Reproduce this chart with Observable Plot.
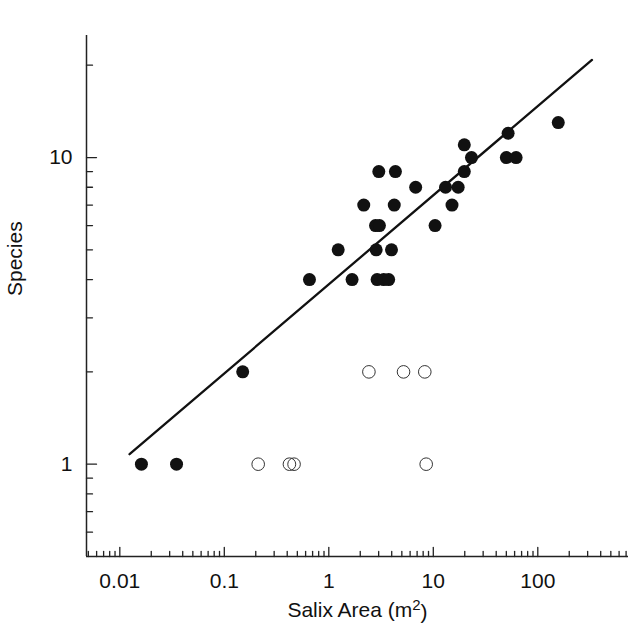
<!DOCTYPE html>
<html>
<head>
<meta charset="utf-8">
<script src="https://cdn.jsdelivr.net/npm/d3@7"></script>
<script src="https://cdn.jsdelivr.net/npm/@observablehq/plot@0.6"></script>
<style>
  body { margin: 0; background: #fff; }
  #chart svg { display: block; }
</style>
</head>
<body>
<div id="chart"></div>
<script>
// Salix patches: area (m²) vs number of species
const filledX = [0.0161, 0.0349, 0.150, 0.653, 1.23, 1.67, 2.16, 2.80, 3.05, 2.84, 3.01, 2.90, 3.35, 3.74, 3.98, 4.23, 4.34, 6.78, 10.4, 13.1, 15.1, 17.3, 19.8, 19.8, 23.2, 50, 62, 52, 157];
const filledY = [1, 1, 2, 4, 5, 4, 7, 6, 6, 5, 9, 4, 4, 4, 5, 7, 9, 8, 6, 8, 7, 8, 9, 11, 10, 10, 10, 12, 13];
const openX = [2.42, 5.19, 8.29, 0.211, 0.42, 0.465, 8.55];
const openY = [2, 2, 2, 1, 1, 1, 1];
// fitted regression line end points
const fitX = [0.0124, 330];
const fitY = [1.078, 20.8];

const xMajorTicks = [0.01, 0.1, 1, 10, 100];
const yMajorTicks = [1, 10];
const xDomain = [0.0048, 738];
const yDomain = [0.5, 25];
const xTitle = "Salix Area (m²)";
const yTitle = "Species";

function minorTicks(lo, hi) {
  const out = [];
  for (let e = Math.floor(Math.log10(lo)); e <= Math.ceil(Math.log10(hi)); e++) {
    for (let k = 2; k <= 9; k++) {
      const v = k * Math.pow(10, e);
      if (v > lo * 1.0001 && v < hi * 0.9999) out.push(v);
    }
  }
  return out;
}
const xMinorTicks = minorTicks(xDomain[0], xDomain[1]);
const yMinorTicks = minorTicks(yDomain[0], yDomain[1]);

const tickUp = {draw(c, l) { c.moveTo(0, 0); c.lineTo(0, -l); }};
const tickRight = {draw(c, l) { c.moveTo(0, 0); c.lineTo(l, 0); }};

const filledIdx = filledX.map((_, i) => i);
const openIdx = openX.map((_, i) => i);
const fitIdx = fitX.map((_, i) => i);
const axisColor = "#222";
const font = "'Liberation Sans', Arial, Helvetica, sans-serif";

const chart = Plot.plot({
  width: 628,
  height: 636,
  marginLeft: 86,
  marginRight: 0,
  marginTop: 35,
  marginBottom: 80,
  style: {fontFamily: font, fontSize: "21px", color: "#111", background: "#fff"},
  x: {type: "log", domain: xDomain, axis: null},
  y: {type: "log", domain: yDomain, axis: null},
  marks: [
    Plot.ruleY([yDomain[0]], {stroke: axisColor, strokeWidth: 1.5}),
    Plot.ruleX([xDomain[0]], {stroke: axisColor, strokeWidth: 1.5}),
    Plot.vector(xMajorTicks, {x: d => d, frameAnchor: "bottom", length: 9, shape: tickUp, anchor: "start", stroke: axisColor, strokeWidth: 1.3}),
    Plot.vector(xMinorTicks, {x: d => d, frameAnchor: "bottom", length: 5, shape: tickUp, anchor: "start", stroke: axisColor, strokeWidth: 1.3}),
    Plot.vector(yMajorTicks, {y: d => d, frameAnchor: "left", length: 10, shape: tickRight, anchor: "start", stroke: axisColor, strokeWidth: 1.3}),
    Plot.vector(yMinorTicks, {y: d => d, frameAnchor: "left", length: 6, shape: tickRight, anchor: "start", stroke: axisColor, strokeWidth: 1.3}),
    Plot.axisX({ticks: xMajorTicks, tickSize: 0, tickPadding: 17, tickFormat: d => String(d), label: null, fontSize: 21}),
    Plot.axisY({ticks: yMajorTicks, tickSize: 0, tickPadding: 14, tickFormat: d => String(d), label: null, fontSize: 21}),
    Plot.line(fitIdx, {x: i => fitX[i], y: i => fitY[i], stroke: "#111", strokeWidth: 2.3}),
    Plot.dot(filledIdx, {x: i => filledX[i], y: i => filledY[i], r: 6.5, fill: "#111", stroke: "none"}),
    Plot.dot(openIdx, {x: i => openX[i], y: i => openY[i], r: 6.3, fill: "none", stroke: "#333", strokeWidth: 1}),
    Plot.text([xTitle], {frameAnchor: "bottom", dy: 60, text: d => d, fontSize: 21, fill: "#111", className: "xtitle"}),
    Plot.text([yTitle], {frameAnchor: "left", dx: -71, rotate: -90, text: d => d, fontSize: 21, fill: "#111"})
  ]
});
document.getElementById("chart").appendChild(chart);

// render the squared unit as a real superscript
d3.select(chart).selectAll("text").each(function() {
  const t = d3.select(this);
  if (t.text() === xTitle) {
    t.text(null);
    t.append("tspan").text("Salix Area (m");
    t.append("tspan").attr("dy", "-0.45em").attr("font-size", "15px").text("2");
    t.append("tspan").attr("dy", "0.45em").text(")");
  }
});
</script>
</body>
</html>
